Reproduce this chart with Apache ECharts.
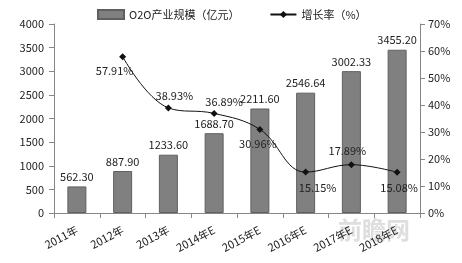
<!DOCTYPE html>
<html><head><meta charset="utf-8">
<script src="https://cdn.jsdelivr.net/npm/echarts@6/dist/echarts.min.js"></script>
<style>html,body{margin:0;padding:0;background:#fff}#c{width:462px;height:263px}</style>
</head><body><div id="c"></div>
<script>
const categories = ['2011年','2012年','2013年','2014年E','2015年E','2016年E','2017年E','2018年E'];
const scaleValues = [562.30, 887.90, 1233.60, 1688.70, 2211.60, 2546.64, 3002.33, 3455.20];
const growthValues = [null, 57.91, 38.93, 36.89, 30.96, 15.15, 17.89, 15.08];
const growthLabelPos = [null, 'bottom', 'top', 'top', 'bottom', 'bottom', 'top', 'bottom'];
const growthLabelOffset = [null, [-8, 0], [6, 2], [10, 2], [-2, 0], [12, 2], [-4, 0], [2, 2]];

const font = '"Noto Sans CJK SC", "DejaVu Sans", sans-serif';
const chart = echarts.init(document.getElementById('c'));
chart.setOption({
  animation: false,
  textStyle: {fontFamily: font},
  legend: {
    top: 4, left: 92, itemGap: 30, itemWidth: 26, itemHeight: 9,
    textStyle: {fontSize: 11, color: '#222', fontFamily: font},
    data: [
      {name: 'O2O产业规模（亿元）', icon: 'rect'},
      {name: '增长率（%）'}
    ]
  },
  grid: {left: 54, right: 42, top: 24, bottom: 50},
  xAxis: {
    type: 'category', data: categories,
    axisLine: {lineStyle: {color: '#868686'}},
    axisTick: {show: true, alignWithLabel: false, length: 5, lineStyle: {color: '#868686'}},
    axisLabel: {rotate: 28, fontSize: 11, color: '#222', margin: 16, interval: 0}
  },
  yAxis: [
    {type: 'value', min: 0, max: 4000, interval: 500,
     axisLine: {show: true, lineStyle: {color: '#868686'}},
     axisTick: {show: true, length: 5, lineStyle: {color: '#868686'}},
     splitLine: {show: false},
     axisLabel: {fontSize: 11, color: '#222', margin: 10, formatter: v => String(v)}},
    {type: 'value', min: 0, max: 70, interval: 10,
     axisLine: {show: true, lineStyle: {color: '#868686'}},
     axisTick: {show: true, length: 5, lineStyle: {color: '#868686'}},
     splitLine: {show: false},
     axisLabel: {fontSize: 11, color: '#222', margin: 8, formatter: '{value}%'}}
  ],
  graphic: [{
    type: 'text', left: 338, top: 218, z: 0,
    style: {text: '前瞻网', fill: 'rgba(190,190,190,0.5)', fontSize: 24, fontWeight: 'bold', fontFamily: font}
  }],
  series: [
    {
      name: 'O2O产业规模（亿元）', type: 'bar', data: scaleValues, barWidth: 19,
      itemStyle: {color: '#808080', borderColor: '#5f5f5f', borderWidth: 1},
      label: {show: true, position: 'top', distance: 4, fontSize: 11, color: '#222',
              formatter: p => p.value.toFixed(2)}
    },
    {
      name: '增长率（%）', type: 'line', yAxisIndex: 1, smooth: 0.4,
      data: growthValues.map((v, i) => v === null ? null : {
        value: v,
        label: {position: growthLabelPos[i], offset: growthLabelOffset[i]}
      }),
      connectNulls: false,
      symbol: 'diamond', symbolSize: 7,
      lineStyle: {color: '#111', width: 1},
      itemStyle: {color: '#111'},
      label: {show: true, fontSize: 11, color: '#222', distance: 5,
              formatter: p => p.value.toFixed(2) + '%'}
    }
  ]
});
</script></body></html>
